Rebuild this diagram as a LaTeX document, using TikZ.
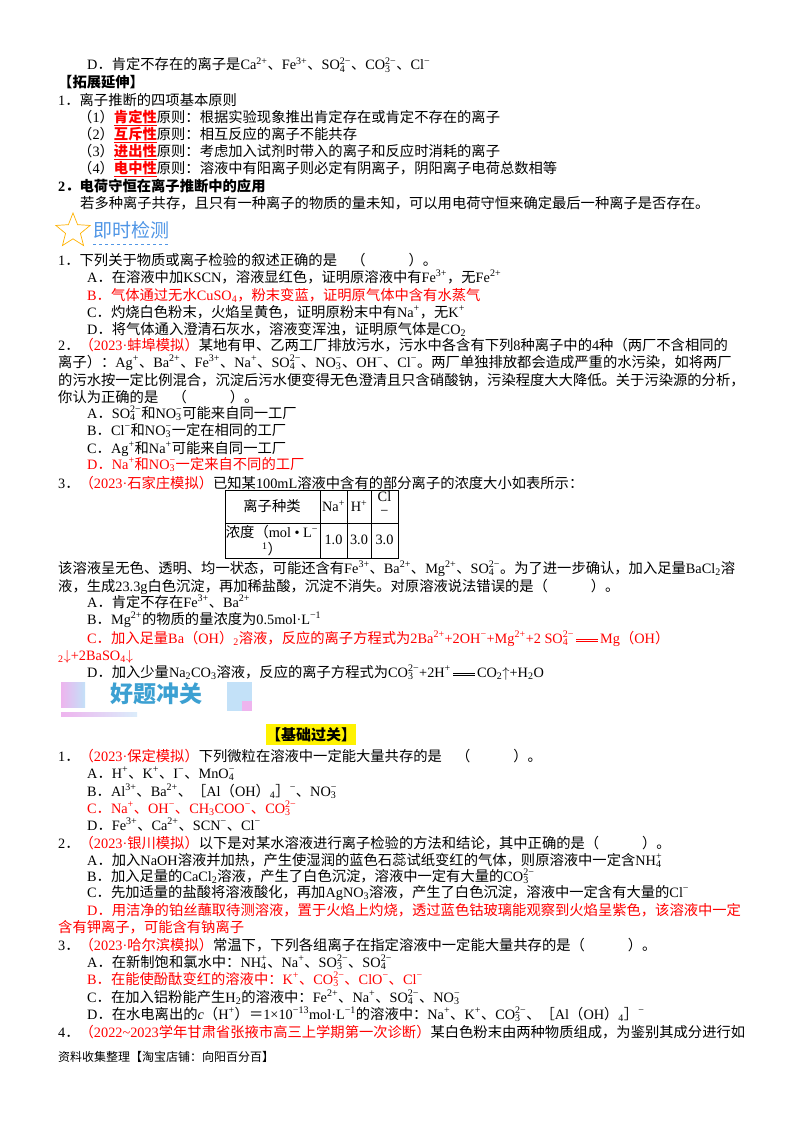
\documentclass[tikz,border=0pt]{standalone}
\usepackage{fontspec}
\usetikzlibrary{shapes.geometric}
\setmainfont{Liberation Serif}
\newfontfamily\cjkf{Noto Sans CJK SC}
\newfontfamily\latf{Liberation Serif}
\chardef\CJKcls=7
\count255="3000 \loop\ifnum\count255<"3040 \XeTeXcharclass\count255=\CJKcls \advance\count255 1 \repeat
\count255="4E00 \loop\ifnum\count255<"A000 \XeTeXcharclass\count255=\CJKcls \advance\count255 1 \repeat
\count255="FF00 \loop\ifnum\count255<"FFF0 \XeTeXcharclass\count255=\CJKcls \advance\count255 1 \repeat
\XeTeXinterchartoks 0 \CJKcls={\cjkf}
\XeTeXinterchartoks 4095 \CJKcls={\cjkf}
\XeTeXinterchartoks \CJKcls 0={\latf}
\XeTeXinterchartoks 4095 0={\latf}
\definecolor{redt}{RGB}{255,0,0}
\definecolor{bluet}{RGB}{80,150,230}
\definecolor{bannerblue}{RGB}{60,160,210}
\definecolor{pinkb}{RGB}{238,180,238}
\definecolor{lightb}{RGB}{195,225,248}
\newcommand\Up[1]{\textsuperscript{#1}}
\newcommand\Dn[1]{\textsubscript{#1}}
\newcommand\Io[2]{\rlap{\textsubscript{#1}}\textsuperscript{#2}}
\newcommand\emp[1]{\textcolor{redt}{\bfseries\underline{#1}}}
\newcommand\src[1]{\textcolor{redt}{#1}}
\newcommand\eqq{\,\rlap{\rule[0.5ex]{1.5em}{0.6pt}}\rule[0.22ex]{1.5em}{0.6pt}\,}
\newcommand\Tl[4]{\node[tx] (#1) at (#2,{#3+5}) {#4};}
\newcommand\Rl[4]{\node[tx,text=redt] (#1) at (#2,{#3+5}) {#4};}
\tikzset{tx/.style={anchor=base west,inner sep=0pt,font=\fontsize{14.3}{17}\selectfont},
 cell/.style={inner sep=0pt,font=\fontsize{14.3}{17}\selectfont}}
\begin{document}
\XeTeXinterchartokenstate=1
\begin{tikzpicture}[x=1pt,y=-1pt]
\fill[white] (0,0) rectangle (800,1132);
\Tl{a1}{87}{65}{D．肯定不存在的离子是Ca\Up{2+}、Fe\Up{3+}、SO\Io{4}{2−}、CO\Io{3}{2−}、Cl\Up{−}}
\Tl{a2}{58}{83}{\bfseries【拓展延伸】}
\Tl{a3}{58}{100}{1．离子推断的四项基本原则}
\Tl{a4}{78}{117}{（1）\emp{肯定性}原则：根据实验现象推出肯定存在或肯定不存在的离子}
\Tl{a5}{78}{134}{（2）\emp{互斥性}原则：相互反应的离子不能共存}
\Tl{a6}{78}{151}{（3）\emp{进出性}原则：考虑加入试剂时带入的离子和反应时消耗的离子}
\Tl{a7}{78}{168}{（4）\emp{电中性}原则：溶液中有阳离子则必定有阴离子，阴阳离子电荷总数相等}
\Tl{a8}{58}{186}{\bfseries 2．电荷守恒在离子推断中的应用}
\Tl{a9}{80}{203}{若多种离子共存，且只有一种离子的物质的量未知，可以用电荷守恒来确定最后一种离子是否存在。}
% banner 1
\node[star,star points=5,star point ratio=2.3,draw=orange!60!yellow,line width=0.7pt,minimum size=36pt,inner sep=0pt] (star) at (73,231) {};
\node[anchor=west,inner sep=0pt,text=bluet,font=\fontsize{19}{20}\selectfont] (b1) at (93,230) {即时检测};
\draw[bluet,dashed,line width=0.8pt] ([yshift=-5pt]b1.south west) -- ([yshift=-5pt]b1.south east);
\Tl{c1}{58}{260}{1．下列关于物质或离子检验的叙述正确的是　（　　　）。}
\Tl{c2}{87}{277}{A．在溶液中加KSCN，溶液显红色，证明原溶液中有Fe\Up{3+}，无Fe\Up{2+}}
\Rl{c3}{87}{295}{B．气体通过无水CuSO\Dn{4}，粉末变蓝，证明原气体中含有水蒸气}
\Tl{c4}{87}{312}{C．灼烧白色粉末，火焰呈黄色，证明原粉末中有Na\Up{+}，无K\Up{+}}
\Tl{c5}{87}{329}{D．将气体通入澄清石灰水，溶液变浑浊，证明原气体是CO\Dn{2}}
\Tl{d1}{58}{345}{2．\src{（2023·蚌埠模拟）}某地有甲、乙两工厂排放污水，污水中各含有下列8种离子中的4种（两厂不含相同的}
\Tl{d2}{58}{362}{离子）：Ag\Up{+}、Ba\Up{2+}、Fe\Up{3+}、Na\Up{+}、SO\Io{4}{2−}、NO\Io{3}{−}、OH\Up{−}、Cl\Up{−}。两厂单独排放都会造成严重的水污染，如将两厂}
\Tl{d3}{58}{380}{的污水按一定比例混合，沉淀后污水便变得无色澄清且只含硝酸钠，污染程度大大降低。关于污染源的分析，}
\Tl{d4}{58}{397}{你认为正确的是　（　　　）。}
\Tl{d5}{87}{413}{A．SO\Io{4}{2−}和NO\Io{3}{−}可能来自同一工厂}
\Tl{d6}{87}{430}{B．Cl\Up{−}和NO\Io{3}{−}一定在相同的工厂}
\Tl{d7}{87}{448}{C．Ag\Up{+}和Na\Up{+}可能来自同一工厂}
\Rl{d8}{87}{464}{D．Na\Up{+}和NO\Io{3}{−}一定来自不同的工厂}
\Tl{e1}{58}{483}{3．\src{（2023·石家庄模拟）}已知某100mL溶液中含有的部分离子的浓度大小如表所示：}
% table
\draw[line width=0.6pt] (225,490) rectangle (398,558);
\draw[line width=0.6pt] (225,523) -- (398,523) (320,490) -- (320,558) (347,490) -- (347,558) (371,490) -- (371,558);
\node[cell] (t1) at (272,506) {离子种类};
\node[cell] (t2) at (333.5,506) {Na\Up{+}};
\node[cell] (t3) at (359,506) {H\Up{+}};
\node[cell] (t4) at (384.5,497) {Cl};
\node[cell] (t4b) at (384.5,513) {−};
\node[cell] (t5) at (272,532) {浓度（mol • L\Up{−}};
\node[cell] (t5b) at (272,549) {\Up{1}）};
\node[cell] (t6) at (333.5,540) {1.0};
\node[cell] (t7) at (359,540) {3.0};
\node[cell] (t8) at (384.5,540) {3.0};
\Tl{e2}{58}{568}{该溶液呈无色、透明、均一状态，可能还含有Fe\Up{3+}、Ba\Up{2+}、Mg\Up{2+}、SO\Io{4}{2−}。为了进一步确认，加入足量BaCl\Dn{2}溶}
\Tl{e3}{58}{586}{液，生成23.3g白色沉淀，再加稀盐酸，沉淀不消失。对原溶液说法错误的是（　　　）。}
\Tl{e4}{87}{602}{A．肯定不存在Fe\Up{3+}、Ba\Up{2+}}
\Tl{e5}{87}{619}{B．Mg\Up{2+}的物质的量浓度为0.5mol·L\Up{−1}}
\Rl{e6}{87}{638}{C．加入足量Ba（OH）\Dn{2}溶液，反应的离子方程式为2Ba\Up{2+}+2OH\Up{−}+Mg\Up{2+}+2 SO\Io{4}{2−}\eqq Mg（OH）}
\Rl{e7}{58}{655}{\Dn{2}$\downarrow$+2BaSO\Dn{4}$\downarrow$}
\Tl{e8}{87}{672}{D．加入少量Na\Dn{2}CO\Dn{3}溶液，反应的离子方程式为CO\Io{3}{2−}+2H\Up{+}\eqq CO\Dn{2}$\uparrow$+H\Dn{2}O}
% banner 2
\shade[left color=pinkb,right color=lightb] (61,682) rectangle (85,707);
\fill[lightb] (227,682) rectangle (252,711);
\fill[pinkb] (242,701) rectangle (252,711);
\shade[left color=pinkb,right color=lightb!60] (61,712) rectangle (137,716);
\node[inner sep=0pt,text=bannerblue,font=\fontsize{23}{24}\selectfont\bfseries] (b2) at (156,694) {好题冲关};
\node[fill=yellow,inner sep=0pt,minimum width=84pt,minimum height=21pt,font=\fontsize{15}{16}\selectfont\bfseries] (b3) at (311,734.5) {【基础过关】};
\Tl{f1}{58}{756}{1．\src{（2023·保定模拟）}下列微粒在溶液中一定能大量共存的是　（　　　）。}
\Tl{f2}{87}{773}{A．H\Up{+}、K\Up{+}、I\Up{−}、MnO\Io{4}{−}}
\Tl{f3}{87}{791}{B．Al\Up{3+}、Ba\Up{2+}、［Al（OH）\Dn{4}］\Up{−}、NO\Io{3}{−}}
\Rl{f4}{87}{808}{C．Na\Up{+}、OH\Up{−}、CH\Dn{3}COO\Up{−}、CO\Io{3}{2−}}
\Tl{f5}{87}{825}{D．Fe\Up{3+}、Ca\Up{2+}、SCN\Up{−}、Cl\Up{−}}
\Tl{g1}{58}{843}{2．\src{（2023·银川模拟）}以下是对某水溶液进行离子检验的方法和结论，其中正确的是（　　　）。}
\Tl{g2}{87}{860}{A．加入NaOH溶液并加热，产生使湿润的蓝色石蕊试纸变红的气体，则原溶液中一定含NH\Io{4}{+}}
\Tl{g3}{87}{876}{B．加入足量的CaCl\Dn{2}溶液，产生了白色沉淀，溶液中一定有大量的CO\Io{3}{2−}}
\Tl{g4}{87}{892}{C．先加适量的盐酸将溶液酸化，再加AgNO\Dn{3}溶液，产生了白色沉淀，溶液中一定含有大量的Cl\Up{−}}
\Rl{g5}{87}{910}{D．用洁净的铂丝蘸取待测溶液，置于火焰上灼烧，透过蓝色钴玻璃能观察到火焰呈紫色，该溶液中一定}
\Rl{g6}{58}{927}{含有钾离子，可能含有钠离子}
\Tl{h1}{58}{945}{3．\src{（2023·哈尔滨模拟）}常温下，下列各组离子在指定溶液中一定能大量共存的是（　　　）。}
\Tl{h2}{87}{962}{A．在新制饱和氯水中：NH\Io{4}{+}、Na\Up{+}、SO\Io{3}{2−}、SO\Io{4}{2−}}
\Rl{h3}{87}{979}{B．在能使酚酞变红的溶液中：K\Up{+}、CO\Io{3}{2−}、ClO\Up{−}、Cl\Up{−}}
\Tl{h4}{87}{997}{C．在加入铝粉能产生H\Dn{2}的溶液中：Fe\Up{2+}、Na\Up{+}、SO\Io{4}{2−}、NO\Io{3}{−}}
\Tl{h5}{87}{1014}{D．在水电离出的\textit{c}（H\Up{+}）＝1×10\Up{−13}mol·L\Up{−1}的溶液中：Na\Up{+}、K\Up{+}、CO\Io{3}{2−}、［Al（OH）\Dn{4}］\Up{−}}
\Tl{i1}{58}{1032}{4．\src{（2022\textasciitilde 2023学年甘肃省张掖市高三上学期第一次诊断）}某白色粉末由两种物质组成，为鉴别其成分进行如}
\node[anchor=base west,inner sep=0pt,font=\fontsize{12}{14}\selectfont] (foot) at (58,1061) {资料收集整理【淘宝店铺：向阳百分百】};
\end{tikzpicture}
\end{document}
